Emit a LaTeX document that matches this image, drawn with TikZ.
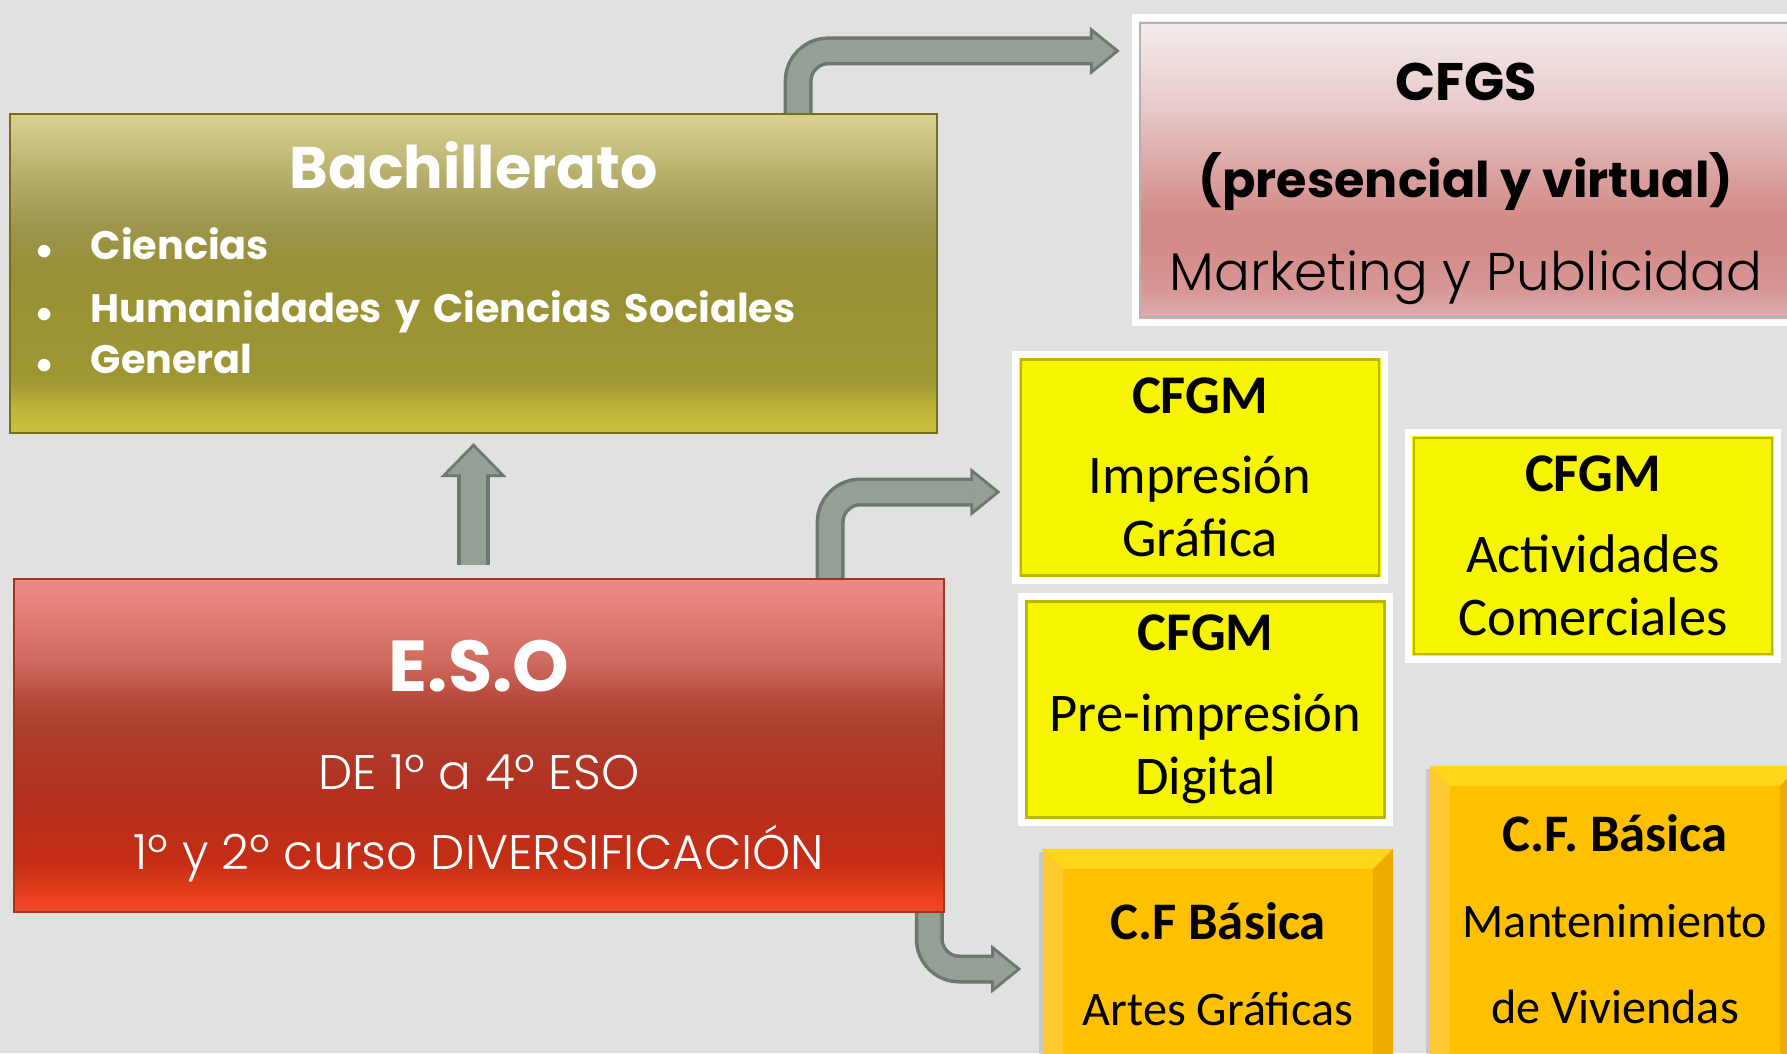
\documentclass[tikz,border=0pt]{standalone}
\usepackage{fontspec}
\setmainfont{Carlito}
\newfontfamily\gothic{Poppins}
\newfontfamily\gothiclight{Poppins}[UprightFont=*-Light]
\usetikzlibrary{arrows.meta,shadows}

\definecolor{bgcolor}{HTML}{E1E1E1}
\definecolor{bachedge}{HTML}{75701F}
\definecolor{esoedge}{HTML}{A8321F}
\definecolor{cfgmyellow}{HTML}{F7F400}
\definecolor{cfgmedge}{HTML}{BDB600}
\definecolor{basicface}{HTML}{FFC000}
\definecolor{basictop}{HTML}{FFD61A}
\definecolor{basicleft}{HTML}{FFC933}
\definecolor{basicright}{HTML}{EDAA00}
\definecolor{pipefill}{HTML}{94A095}
\definecolor{pipeedge}{HTML}{6B786C}

\pgfdeclareverticalshading{bachshade}{100bp}{rgb(0bp)=(0.788,0.757,0.231); rgb(25bp)=(0.788,0.757,0.231);
  rgb(29bp)=(0.741,0.710,0.227); rgb(33bp)=(0.624,0.592,0.200); rgb(50bp)=(0.592,0.565,0.208); rgb(57bp)=(0.612,0.580,0.290);
  rgb(64bp)=(0.694,0.663,0.400); rgb(75bp)=(0.855,0.824,0.565); rgb(100bp)=(0.855,0.824,0.565)}
\pgfdeclareverticalshading{esoshade}{100bp}{rgb(0bp)=(0.941,0.290,0.157); rgb(25bp)=(0.941,0.290,0.157);
  rgb(27.5bp)=(0.910,0.251,0.118); rgb(32.5bp)=(0.773,0.176,0.078); rgb(42.5bp)=(0.702,0.188,0.122); rgb(52.5bp)=(0.678,0.243,0.180);
  rgb(57.5bp)=(0.722,0.298,0.243); rgb(62.5bp)=(0.816,0.416,0.369); rgb(75bp)=(0.933,0.549,0.518); rgb(100bp)=(0.933,0.549,0.518)}
\pgfdeclareverticalshading{cfgsshade}{100bp}{rgb(0bp)=(0.878,0.690,0.690); rgb(25bp)=(0.878,0.690,0.690);
  rgb(30bp)=(0.847,0.596,0.596); rgb(37.5bp)=(0.827,0.541,0.525); rgb(42.5bp)=(0.831,0.549,0.533); rgb(50bp)=(0.859,0.643,0.635);
  rgb(60bp)=(0.910,0.784,0.784); rgb(75bp)=(0.957,0.933,0.933); rgb(100bp)=(0.957,0.933,0.933)}

\tikzset{
  bachbox/.style={draw=bachedge, line width=0.6pt, shading=bachshade,
    minimum width=9.27cm, minimum height=3.19cm, text width=8.77cm, inner xsep=0.25cm, inner ysep=0pt,
    align=left, text=white, font=\gothic\bfseries\fontsize{11.3}{14.5}\selectfont},
  esobox/.style={draw=esoedge, line width=0.6pt, shading=esoshade,
    minimum width=9.3cm, minimum height=3.33cm, inner sep=0pt, align=center, text=white,
    font=\gothiclight\fontsize{13.8}{22.8}\selectfont},
  cfgsbox/.style={draw=white, line width=0.07cm, shading=cfgsshade,
    minimum width=6.61cm, minimum height=3.04cm, inner sep=0pt, align=center, font=\gothic\fontsize{14}{26.2}\selectfont,
    drop shadow={shadow xshift=0.04cm, shadow yshift=-0.04cm, opacity=0.3},
    path picture={\draw[black!30, line width=0.02cm] ([shift={(0.05cm,-0.05cm)}]path picture bounding box.north west) rectangle ([shift={(-0.05cm,0.05cm)}]path picture bounding box.south east);}},
  cfgmbox/.style={draw=white, line width=0.07cm, fill=cfgmyellow, minimum width=3.68cm, minimum height=2.26cm,
    inner sep=0pt, align=center, font=\fontsize{15.5}{18}\selectfont,
    drop shadow={shadow xshift=0.03cm, shadow yshift=-0.03cm, opacity=0.3},
    path picture={\draw[cfgmedge, line width=0.025cm] ([shift={(0.05cm,-0.05cm)}]path picture bounding box.north west) rectangle ([shift={(-0.05cm,0.05cm)}]path picture bounding box.south east);}},
  basicbox/.style={fill=basicface, inner sep=0pt, align=center, font=\fontsize{13.7}{24.5}\selectfont,
    drop shadow={shadow xshift=-0.04cm, shadow yshift=-0.03cm, opacity=0.25},
    path picture={
      \fill[basictop] (path picture bounding box.north west) -- (path picture bounding box.north east) -- ([shift={(-0.2cm,-0.2cm)}]path picture bounding box.north east) -- ([shift={(0.2cm,-0.2cm)}]path picture bounding box.north west) -- cycle;
      \fill[basicleft] (path picture bounding box.north west) -- ([shift={(0.2cm,-0.2cm)}]path picture bounding box.north west) -- ([shift={(0.2cm,0.2cm)}]path picture bounding box.south west) -- (path picture bounding box.south west) -- cycle;
      \fill[basicright] (path picture bounding box.north east) -- ([shift={(-0.2cm,-0.2cm)}]path picture bounding box.north east) -- ([shift={(-0.2cm,0.2cm)}]path picture bounding box.south east) -- (path picture bounding box.south east) -- cycle;}},
  pipe/.style={draw=pipeedge, line width=0.29cm, rounded corners=0.3cm,
    -{Triangle[width=0.48cm, length=0.3cm, line width=0.8pt, fill=pipefill]}},
  pipecore/.style={draw=pipefill, line width=0.22cm, rounded corners=0.3cm, shorten >=0.27cm},
  uppipe/.style={draw=pipeedge, line width=0.32cm,
    -{Triangle[width=0.66cm, length=0.34cm, line width=0.8pt, fill=pipefill]}},
  uppipecore/.style={draw=pipefill, line width=0.25cm, shorten >=0.31cm},
}

\newcommand{\bachitem}{\makebox[0.56cm][l]{\hspace{0.02cm}{\fontsize{9}{9}\selectfont$\bullet$}}}

\begin{document}
\begin{tikzpicture}[x=0.01cm, y=-0.01cm]
  \useasboundingbox (0,0) rectangle (1787,1053);
  \fill[bgcolor] (0,0) rectangle (1787,1053);

  \node[bachbox] (bach) at (473.5,273.5) {{\centering\fontsize{16.7}{21}\selectfont Bachillerato\par}
    \vspace{5.5pt}
    \bachitem Ciencias\\[3.4pt]
    \bachitem Humanidades y Ciencias Sociales\\
    \bachitem General\par
    \vspace{0.32cm}};
  \node[esobox] (eso) at (479,745.5) {{\gothic\bfseries\fontsize{20.5}{26}\selectfont\rule{0pt}{0.83cm}E.S.O}\\[5.1pt]
    DE 1º a 4º ESO\\ 1º y 2º curso DIVERSIFICACIÓN};

  \node[cfgsbox] (cfgs) at (1466,170) {{\bfseries\fontsize{15}{26.2}\selectfont\rule{0pt}{0.65cm}CFGS}\\[1.4pt] {\bfseries (presencial y virtual)}\\
    {\gothiclight\fontsize{15.1}{26.2}\selectfont Marketing y Publicidad}};
  \node[cfgmbox] (impresion) at (1200,467.5) {{\bfseries CFGM}\\[4.8pt] Impresión\\ Gráfica};
  \node[cfgmbox] (preimpresion) at (1205.5,709.5) {{\bfseries CFGM}\\[4.8pt] Pre-impresión\\ Digital};
  \node[cfgmbox] (comerciales) at (1593,546) {{\bfseries CFGM}\\[4.8pt] Actividades\\ Comerciales};
  \node[basicbox, minimum width=3.5cm, minimum height=2.31cm] (artes) at (1218,964.5)
    {{\bfseries\fontsize{15}{25}\selectfont C.F Básica}\\ Artes Gráficas};
  \node[basicbox, minimum width=3.7cm, minimum height=3.06cm] (viviendas) at (1615,919)
    {{\bfseries\fontsize{15}{24.5}\selectfont C.F. Básica}\\ Mantenimiento\\ de Viviendas};

  \draw[uppipe] ([yshift=0.13cm]eso.north -| bach.south) -- ([yshift=-0.09cm]bach.south);
  \draw[uppipecore] ([yshift=0.13cm]eso.north -| bach.south) -- ([yshift=-0.09cm]bach.south);

  \draw[pipe] ([xshift=3.245cm]bach.north) |- ([xshift=-0.12cm,yshift=1.19cm]cfgs.west);
  \draw[pipecore] ([xshift=3.245cm]bach.north) |- ([xshift=-0.12cm,yshift=1.19cm]cfgs.west);
  \draw[pipe] ([xshift=3.51cm]eso.north) |- ([xshift=-0.12cm,yshift=-0.245cm]impresion.west);
  \draw[pipecore] ([xshift=3.51cm]eso.north) |- ([xshift=-0.12cm,yshift=-0.245cm]impresion.west);
  \draw[pipe] ([xshift=4.5cm]eso.south) |- ([xshift=-0.21cm,yshift=-0.045cm]artes.west);
  \draw[pipecore] ([xshift=4.5cm]eso.south) |- ([xshift=-0.21cm,yshift=-0.045cm]artes.west);
\end{tikzpicture}
\end{document}
